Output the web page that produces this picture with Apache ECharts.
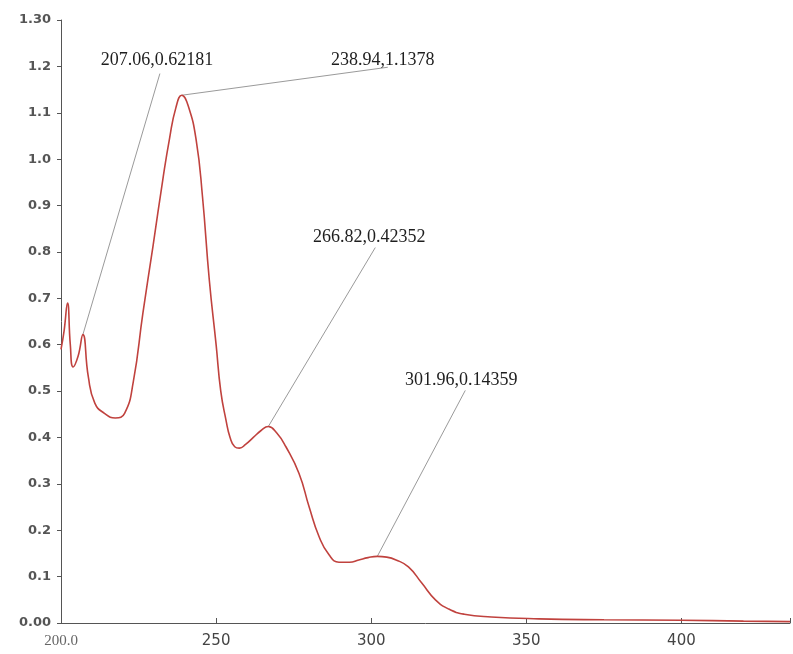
<!DOCTYPE html>
<html>
<head>
<meta charset="utf-8">
<script src="https://cdn.jsdelivr.net/npm/echarts@6/dist/echarts.min.js"></script>
<style>html,body{margin:0;padding:0;background:#fff;}#c{width:793px;height:654px;}</style>
</head>
<body>
<div id="c"></div>
<script>
// Wavelength (nm) and absorbance
var wavelength = [200, 201, 202.1, 203, 203.9, 205.5, 207.06, 208.8, 210.9, 214, 217.5, 220.5, 223.3, 226.4, 229.6, 232.8, 235, 237, 238.94, 241, 243.6, 245.6, 247.8, 250, 251.5, 253.2, 254.5, 256, 257.5, 259.5, 262, 264.5, 266.82, 269.5, 272.5, 276.7, 280, 283.2, 286.4, 289.6, 293, 296, 299, 301.96, 305, 308, 312, 316.3, 320.7, 325, 330, 338.7, 354, 375, 400, 420, 435];
var absorbance = [0.59, 0.63, 0.69, 0.60, 0.552, 0.575, 0.6218, 0.531, 0.474, 0.452, 0.442, 0.452, 0.52, 0.668, 0.81, 0.955, 1.045, 1.11, 1.1378, 1.115, 1.04, 0.92, 0.74, 0.60, 0.50, 0.437, 0.40, 0.38, 0.377, 0.385, 0.40, 0.415, 0.4235, 0.41, 0.38, 0.323, 0.25, 0.186, 0.147, 0.131, 0.131, 0.136, 0.141, 0.1436, 0.142, 0.136, 0.121, 0.086, 0.05, 0.030, 0.019, 0.013, 0.009, 0.007, 0.006, 0.004, 0.003];
// Labelled peaks
var peakWl = [207.06, 238.94, 266.82, 301.96];
var peakAbs = [0.62181, 1.1378, 0.42352, 0.14359];
var peakLabels = ['207.06,0.62181', '238.94,1.1378', '266.82,0.42352', '301.96,0.14359'];
// Y tick labels
var yTickLabels = {'0': '0.00', '1.3': '1.30'};

var chart = echarts.init(document.getElementById('c'));
var lineEnd = [[77, -261], [206, -28], [107, -179], [88, -166]];
var textAt = [[74, -274], [201, -35], [101, -189], [84, -176]];

var curve = wavelength.map(function (w, i) { return [w, absorbance[i]]; });
var peaks = peakWl.map(function (w, i) { return [w, peakAbs[i], i]; });

chart.setOption({
  animation: false,
  backgroundColor: '#fff',
  grid: {left: 61, right: 0, top: 20, bottom: 31},
  xAxis: {
    type: 'value', min: 200, max: 435, interval: 50,
    axisLine: {lineStyle: {color: '#555', width: 1}},
    axisTick: {inside: true, length: 5, lineStyle: {color: '#555'}},
    splitLine: {show: false},
    axisLabel: {
      margin: 11, color: '#444', fontFamily: 'DejaVu Sans', fontSize: 15,
      formatter: function (v) {
        if (v === 200) return '{s|200.0}';
        if (v % 50 !== 0) return '';
        return String(v);
      },
      rich: {s: {fontFamily: 'Liberation Serif', fontSize: 15, color: '#666'}}
    }
  },
  yAxis: {
    type: 'value', min: 0, max: 1.3, interval: 0.1,
    axisLine: {show: true, lineStyle: {color: '#555', width: 1}},
    axisTick: {show: true, length: 4, lineStyle: {color: '#555'}},
    splitLine: {show: false},
    axisLabel: {
      margin: 10, color: '#555', fontFamily: 'DejaVu Sans', fontSize: 13, fontWeight: 'bold',
      formatter: function (v) {
        var k = String(Math.round(v * 10) / 10);
        if (yTickLabels[k]) return yTickLabels[k];
        return (Math.round(v * 10) / 10).toFixed(1);
      }
    }
  },
  series: [
    {
      type: 'line', data: curve, showSymbol: false, smooth: 0.5,
      lineStyle: {color: '#c0423e', width: 1.6}, z: 3
    },
    {
      type: 'custom', data: peaks, z: 2,
      renderItem: function (params, api) {
        var p = api.coord([api.value(0), api.value(1)]);
        var i = api.value(2);
        return {
          type: 'group',
          children: [
            {type: 'line', shape: {x1: p[0], y1: p[1], x2: p[0] + lineEnd[i][0], y2: p[1] + lineEnd[i][1]},
             style: {stroke: '#9a9a9a', lineWidth: 1}},
            {type: 'text', x: p[0] + textAt[i][0], y: p[1] + textAt[i][1],
             style: {text: peakLabels[i], fill: '#1e1e1e', font: '18px "Liberation Serif"',
                     textAlign: 'center', textVerticalAlign: 'middle'}}
          ]
        };
      }
    }
  ]
});
</script>
</body>
</html>
